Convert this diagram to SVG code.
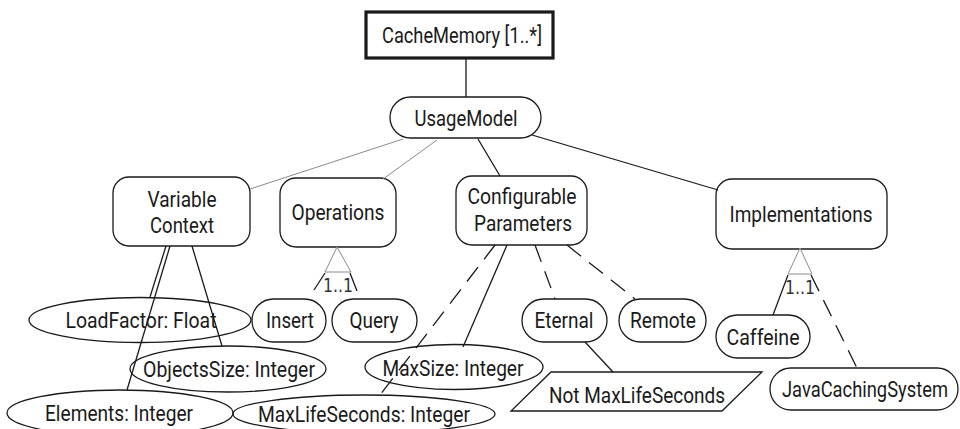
<svg xmlns="http://www.w3.org/2000/svg" width="960" height="429" viewBox="0 0 960 429">
<style>
.t{font-family:Roboto,"Liberation Sans",sans-serif;font-size:21.5px;fill:#1a1a1a;text-anchor:middle}
.s{fill:#fff;stroke:#1a1a1a;stroke-width:1.3}
.e{fill:none;stroke:#1a1a1a;stroke-width:1.3}
.l{stroke:#1a1a1a;stroke-width:1.3;fill:none}
.g{stroke:#8a8a8a;stroke-width:1;fill:none}
.d{stroke:#1a1a1a;stroke-width:1.3;fill:none;stroke-dasharray:18 10}
.m{font-family:"DejaVu Sans Condensed","DejaVu Sans",sans-serif;font-size:19px;fill:#333;text-anchor:middle}
</style>
<rect width="960" height="429" fill="#fff"/>
<g id="nodes-back">
<g id="CacheMemory"><rect x="366" y="12" width="187" height="46" fill="#fff" stroke="#1a1a1a" stroke-width="3.2"/><text class="t" x="462" y="43" textLength="160" lengthAdjust="spacingAndGlyphs">CacheMemory [1..*]</text></g>
<g id="UsageModel"><rect class="s" x="390" y="97" width="151" height="41" rx="20.5"/><text class="t" x="466" y="126" textLength="103" lengthAdjust="spacingAndGlyphs">UsageModel</text></g>
<g id="VariableContext"><rect class="s" x="113" y="177" width="137" height="69" rx="16"/><text class="t" x="182" y="207" textLength="69" lengthAdjust="spacingAndGlyphs">Variable</text><text class="t" x="182" y="233" textLength="64" lengthAdjust="spacingAndGlyphs">Context</text></g>
<g id="Operations"><rect class="s" x="280" y="178" width="116" height="69" rx="16"/><text class="t" x="338" y="220" textLength="93" lengthAdjust="spacingAndGlyphs">Operations</text></g>
<g id="ConfigurableParameters"><rect class="s" x="456" y="176" width="131" height="69" rx="16"/><text class="t" x="522" y="204" textLength="109" lengthAdjust="spacingAndGlyphs">Configurable</text><text class="t" x="523" y="231" textLength="98" lengthAdjust="spacingAndGlyphs">Parameters</text></g>
<g id="Implementations"><rect class="s" x="716" y="179" width="171" height="70" rx="16"/><text class="t" x="801" y="222" textLength="143" lengthAdjust="spacingAndGlyphs">Implementations</text></g>
<g id="Insert"><rect class="s" x="252" y="299" width="74" height="43" rx="21.5"/><text class="t" x="290" y="328" textLength="48" lengthAdjust="spacingAndGlyphs">Insert</text></g>
<g id="Query"><rect class="s" x="332" y="299" width="85" height="43" rx="21.5"/><text class="t" x="374" y="328" textLength="49" lengthAdjust="spacingAndGlyphs">Query</text></g>
<g id="Eternal"><rect class="s" x="522" y="299" width="85" height="43" rx="21.5"/><text class="t" x="564" y="328" textLength="59" lengthAdjust="spacingAndGlyphs">Eternal</text></g>
<g id="Remote"><rect class="s" x="619" y="299" width="87" height="43" rx="21.5"/><text class="t" x="663" y="328" textLength="66" lengthAdjust="spacingAndGlyphs">Remote</text></g>
<g id="Caffeine"><rect class="s" x="716" y="315" width="94" height="43" rx="21.5"/><text class="t" x="763" y="345" font-size="18" textLength="73" lengthAdjust="spacingAndGlyphs">Caffeine</text></g>
<g id="JavaCachingSystem"><rect class="s" x="770" y="368" width="188" height="42" rx="21"/><text class="t" x="865" y="397" font-size="19.5" textLength="166" lengthAdjust="spacingAndGlyphs">JavaCachingSystem</text></g>
<g id="NotMaxLifeSeconds"><polygon class="s" points="551,372 762,372 722,411 511,411"/><text class="t" x="637" y="403" textLength="176" lengthAdjust="spacingAndGlyphs">Not MaxLifeSeconds</text></g>
</g>
<g id="attributes">
<g id="LoadFactor"><ellipse class="e" cx="140" cy="320" rx="111" ry="22.5"/><text class="t" x="141" y="328" textLength="151" lengthAdjust="spacingAndGlyphs">LoadFactor: Float</text></g>
<g id="ObjectsSize"><ellipse class="e" cx="228" cy="369" rx="98" ry="23"/><text class="t" x="229" y="377" textLength="172" lengthAdjust="spacingAndGlyphs">ObjectsSize: Integer</text></g>
<g id="Elements"><ellipse class="e" cx="120" cy="413" rx="113" ry="23"/><text class="t" x="119" y="421" textLength="148" lengthAdjust="spacingAndGlyphs">Elements: Integer</text></g>
<g id="MaxSize"><ellipse class="e" cx="454" cy="367" rx="89" ry="22.5"/><text class="t" x="453" y="376" textLength="141" lengthAdjust="spacingAndGlyphs">MaxSize: Integer</text></g>
<g id="MaxLifeSeconds"><ellipse class="e" cx="364" cy="414" rx="131" ry="19"/><text class="t" x="364" y="422" textLength="212" lengthAdjust="spacingAndGlyphs">MaxLifeSeconds: Integer</text></g>
</g>
<g id="connectors">
<line class="l" x1="466" y1="58" x2="466" y2="97"/>
<line class="g" x1="403" y1="139" x2="250" y2="189"/>
<line class="g" x1="437" y1="140" x2="383" y2="179"/>
<line class="l" x1="478" y1="139" x2="500" y2="176"/>
<line class="l" x1="532" y1="135" x2="718" y2="190"/>
<line class="l" x1="166" y1="246" x2="150" y2="297"/>
<line class="l" x1="170" y1="246" x2="127" y2="390"/>
<line class="l" x1="192" y1="246" x2="222" y2="346"/>
<polygon points="337,247 325,272 351,272" fill="#fff" stroke="#8a8a8a" stroke-width="1"/>
<line class="l" x1="325" y1="273" x2="314" y2="290"/>
<line class="l" x1="350" y1="273" x2="357" y2="291"/>
<text class="m" x="338" y="292" textLength="30" lengthAdjust="spacingAndGlyphs">1..1</text>
<polygon points="800,248 788,274 812,274" fill="#fff" stroke="#8a8a8a" stroke-width="1"/>
<line class="l" x1="788" y1="275" x2="773" y2="315"/>
<line class="d" x1="811" y1="275" x2="857" y2="368"/>
<text class="m" x="800" y="294" textLength="30" lengthAdjust="spacingAndGlyphs">1..1</text>
<line class="d" x1="495" y1="245" x2="380" y2="395"/>
<line class="l" x1="507" y1="245" x2="463" y2="347"/>
<line class="d" x1="535" y1="245" x2="555" y2="299"/>
<line class="d" x1="567" y1="245" x2="635" y2="299"/>
<line class="l" x1="585" y1="342" x2="613" y2="372"/>
</g>
</svg>
